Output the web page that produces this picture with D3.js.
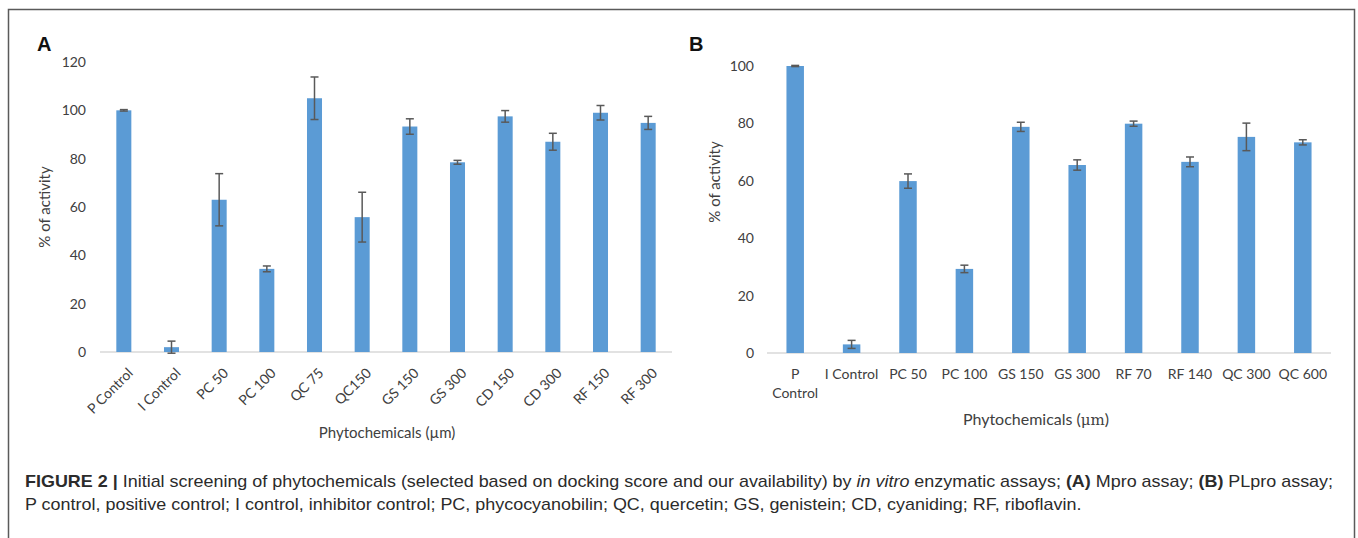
<!DOCTYPE html>
<html>
<head>
<meta charset="utf-8">
<script src="https://cdn.jsdelivr.net/npm/d3@7"></script>
<style>
  body { margin: 0; background: #fff; }
  svg { display: block; }
</style>
</head>
<body>
<script>
// Panel A - Mpro assay
const categoriesA = ["P Control", "I Control", "PC 50", "PC 100", "QC 75", "QC150", "GS 150", "GS 300", "CD 150", "CD 300", "RF 150", "RF 300"];
const activityA = [100, 2, 63, 34.4, 105, 55.8, 93.3, 78.5, 97.5, 87, 99, 94.8];
const errorA = [0.3, 2.5, 10.8, 1.2, 8.8, 10.3, 3.2, 0.8, 2.4, 3.5, 3, 2.7];
const ticksA = [0, 20, 40, 60, 80, 100, 120];

// Panel B - PLpro assay
const categoriesB = ["P\nControl", "I Control", "PC 50", "PC 100", "GS 150", "GS 300", "RF 70", "RF 140", "QC 300", "QC 600"];
const activityB = [100, 3, 59.9, 29.3, 78.8, 65.5, 79.9, 66.6, 75.3, 73.4];
const errorB = [0.2, 1.4, 2.5, 1.3, 1.6, 1.8, 0.9, 1.7, 4.8, 0.9];
const ticksB = [0, 20, 40, 60, 80, 100];

const W = 1358, H = 538;
const barColor = "#5b9bd5";
const errColor = "#595959";
const textColor = "#404040";
const labelFont = "Lato, 'Open Sans', sans-serif";

const svg = d3.select("body").append("svg")
    .attr("width", W)
    .attr("height", H);

// outer frame (bottom edge runs off the picture)
svg.append("rect")
    .attr("x", 8.5).attr("y", 9.5)
    .attr("width", 1346).attr("height", 600)
    .attr("fill", "none")
    .attr("stroke", "#5a5a5a")
    .attr("stroke-width", 1.5);

// draws bars, error bars, baseline and y tick labels for one panel
function drawBars(g, cats, vals, errs, ticks, x, y, capW, fontSize, labelGap) {
    g.append("line")
        .attr("x1", x.range()[0]).attr("x2", x.range()[1])
        .attr("y1", y(0)).attr("y2", y(0))
        .attr("stroke", "#d9d9d9")
        .attr("stroke-width", 1.5);

    g.selectAll(".bar")
        .data(cats)
        .enter().append("rect")
        .attr("class", "bar")
        .attr("x", d => x(d))
        .attr("y", (d, i) => y(vals[i]))
        .attr("width", x.bandwidth())
        .attr("height", (d, i) => y(0) - y(vals[i]))
        .attr("fill", barColor);

    const eb = g.selectAll(".err")
        .data(cats)
        .enter().append("g")
        .attr("class", "err")
        .attr("stroke", errColor)
        .attr("stroke-width", 1.5);
    const cx = d => x(d) + x.bandwidth() / 2;
    eb.append("line")
        .attr("x1", cx).attr("x2", cx)
        .attr("y1", (d, i) => y(vals[i] - errs[i]))
        .attr("y2", (d, i) => y(vals[i] + errs[i]));
    eb.append("line")
        .attr("x1", d => cx(d) - capW / 2).attr("x2", d => cx(d) + capW / 2)
        .attr("y1", (d, i) => y(vals[i] + errs[i]))
        .attr("y2", (d, i) => y(vals[i] + errs[i]));
    eb.append("line")
        .attr("x1", d => cx(d) - capW / 2).attr("x2", d => cx(d) + capW / 2)
        .attr("y1", (d, i) => y(vals[i] - errs[i]))
        .attr("y2", (d, i) => y(vals[i] - errs[i]));

    // y axis: labels only, no line or tick marks
    const ax = g.append("g")
        .attr("transform", `translate(${x.range()[0] - labelGap},0)`)
        .call(d3.axisLeft(y).tickValues(ticks).tickSize(0).tickPadding(0));
    ax.select(".domain").remove();
    ax.selectAll("text")
        .attr("font-family", labelFont)
        .attr("font-size", fontSize)
        .attr("fill", textColor);
}

// ---------- Panel A ----------
const xA = d3.scaleBand()
    .domain(categoriesA)
    .range([100, 672])
    .paddingInner(0.685)
    .paddingOuter(0.3425);

const yA = d3.scaleLinear()
    .domain([0, 120])
    .range([352, 62]);

const gA = svg.append("g");
drawBars(gA, categoriesA, activityA, errorA, ticksA, xA, yA, 8, 14, 14);

// rotated category labels
gA.selectAll(".xlabel")
    .data(categoriesA)
    .enter().append("text")
    .attr("class", "xlabel")
    .attr("transform", d => `translate(${xA(d) + xA.bandwidth() / 2 + 10},${374}) rotate(-45)`)
    .attr("text-anchor", "end")
    .attr("font-family", labelFont)
    .attr("font-size", 14)
    .attr("fill", textColor)
    .text(d => d);

gA.append("text")
    .attr("x", 387).attr("y", 438)
    .attr("text-anchor", "middle")
    .attr("font-family", labelFont)
    .attr("font-size", 15)
    .attr("fill", textColor)
    .text("Phytochemicals (µm)");

gA.append("text")
    .attr("transform", "translate(50,207) rotate(-90)")
    .attr("text-anchor", "middle")
    .attr("font-family", labelFont)
    .attr("font-size", 15)
    .attr("fill", textColor)
    .text("% of activity");

gA.append("text")
    .attr("x", 37).attr("y", 51)
    .attr("font-family", "'Liberation Sans', Arial, sans-serif")
    .attr("font-weight", "bold")
    .attr("font-size", 20)
    .attr("fill", "#111")
    .text("A");

// ---------- Panel B ----------
const xB = d3.scaleBand()
    .domain(categoriesB)
    .range([767, 1331])
    .paddingInner(0.69)
    .paddingOuter(0.345);

const yB = d3.scaleLinear()
    .domain([0, 100])
    .range([353, 66]);

const gB = svg.append("g");
drawBars(gB, categoriesB, activityB, errorB, ticksB, xB, yB, 8, 14, 13);

const lblB = gB.selectAll(".xlabel")
    .data(categoriesB)
    .enter().append("text")
    .attr("class", "xlabel")
    .attr("text-anchor", "middle")
    .attr("font-family", labelFont)
    .attr("font-size", 14)
    .attr("fill", textColor);
lblB.selectAll("tspan")
    .data(d => d.split("\n").map(t => ({ t, x: xB(d) + xB.bandwidth() / 2 })))
    .enter().append("tspan")
    .attr("x", d => d.x)
    .attr("y", (d, i) => 379 + i * 19)
    .text(d => d.t);

const titleB = gB.append("text")
    .attr("x", 1036).attr("y", 425)
    .attr("text-anchor", "middle")
    .attr("font-family", labelFont)
    .attr("font-size", 16)
    .attr("fill", textColor);
titleB.append("tspan").text("Phytochemicals (");
titleB.append("tspan").attr("font-family", "'DejaVu Serif', 'Liberation Serif', serif").attr("font-size", 15).text("μm");
titleB.append("tspan").text(")");

gB.append("text")
    .attr("transform", "translate(720,182) rotate(-90)")
    .attr("text-anchor", "middle")
    .attr("font-family", labelFont)
    .attr("font-size", 15)
    .attr("fill", textColor)
    .text("% of activity");

gB.append("text")
    .attr("x", 689).attr("y", 51)
    .attr("font-family", "'Liberation Sans', Arial, sans-serif")
    .attr("font-weight", "bold")
    .attr("font-size", 20)
    .attr("fill", "#111")
    .text("B");

// ---------- Caption ----------
const capFont = "'Liberation Sans', Arial, sans-serif";
const line1 = [
    ["FIGURE 2 |", "bold", "normal"],
    [" Initial screening of phytochemicals (selected based on docking score and our availability) by ", "normal", "normal"],
    ["in vitro", "normal", "italic"],
    [" enzymatic assays; ", "normal", "normal"],
    ["(A)", "bold", "normal"],
    [" Mpro assay; ", "normal", "normal"],
    ["(B)", "bold", "normal"],
    [" PLpro assay;", "normal", "normal"]
];
const line2 = "P control, positive control; I control, inhibitor control; PC, phycocyanobilin; QC, quercetin; GS, genistein; CD, cyaniding; RF, riboflavin.";

const cap1 = svg.append("text")
    .attr("font-family", capFont)
    .attr("font-size", 17)
    .attr("fill", "#2b2b2b");
line1.forEach(p => {
    cap1.append("tspan")
        .attr("font-weight", p[1])
        .attr("font-style", p[2])
        .text(p[0]);
});
const cap2 = svg.append("text")
    .attr("font-family", capFont)
    .attr("font-size", 17)
    .attr("fill", "#2b2b2b")
    .text(line2);

// squeeze the caption horizontally (condensed face) so line 1 spans the original width
const sx = 1309 / cap1.node().getComputedTextLength();
cap1.attr("transform", `translate(25,487) scale(${sx},1)`);
cap2.attr("transform", `translate(25,510) scale(${sx},1)`);
</script>
</body>
</html>
